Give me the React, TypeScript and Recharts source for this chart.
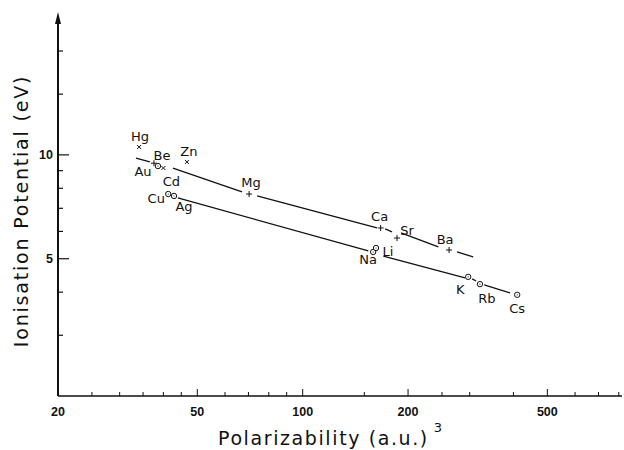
import React from "react";
import { ScatterChart, Scatter, XAxis, YAxis, ReferenceDot } from "recharts";

// values (polarizability in a.u.^3, ionisation potential in eV)
const elements = ["Hg", "Be", "Au", "Cd", "Zn", "Cu", "Ag", "Mg", "Ca", "Sr", "Ba", "Na", "Li", "K", "Rb", "Cs"];
const polarizability = [34.1, 37.6, 38.6, 40.0, 46.7, 41.3, 42.9, 70.3, 167, 186, 262, 159, 162, 297, 321, 410];
const ionisation = [10.54, 9.46, 9.28, 9.16, 9.54, 7.7, 7.6, 7.7, 6.14, 5.74, 5.3, 5.23, 5.37, 4.43, 4.22, 3.93];
const groups = ["d10s2", "s2", "s1", "d10s2", "d10s2", "s1", "s1", "s2", "s2", "s2", "s2", "s1", "s1", "s1", "s1", "s1"];

// the two fitted lines, broken where they pass the symbols
const upperLineX = [[33.4, 36.6], [42.6, 67.1], [74.1, 163], [172, 180], [191, 244], [276, 307]];
const upperLineY = [[9.79, 9.54], [9.16, 7.81], [7.6, 6.14], [6.1, 5.98], [5.94, 5.41], [5.23, 5.06]];
const lowerLineX = [[44.0, 154], [170, 291], [305, 313], [330, 391]];
const lowerLineY = [[7.5, 5.27], [5.09, 4.4], [4.37, 4.31], [4.2, 3.98]];

const xTicks = [20, 25, 30, 35, 40, 45, 50, 60, 70, 80, 90, 100, 150, 200, 250, 300, 400, 500, 600, 700, 800];
const xTickLabels = [20, 50, 100, 200, 500];
const yTicks = [3, 4, 5, 6, 7, 8, 9, 10, 15, 20];
const yTickLabels = [5, 10];

const xDomain = [20, 817];
const yDomain = [2, 24.6];

const INK = "#111";

const labelOffset: Record<string, [number, number]> = {
  Hg: [1, -10], Be: [8, -8], Zn: [2, -10], Au: [-15, 5], Cd: [8, 13], Cu: [-12, 4], Ag: [10, 11],
  Mg: [2, -12], Ca: [-1, -11], Sr: [10, -8], Ba: [-4, -10], Li: [12, 3], Na: [-5, 8],
  K: [-8, 13], Rb: [7, 14], Cs: [0, 14],
};

const points = elements.map((name, i) => ({
  name,
  x: polarizability[i],
  y: ionisation[i],
  group: groups[i],
}));

const toSegments = (xs: number[][], ys: number[][]) =>
  xs.map((pair, i) => pair.map((x, j) => ({ x, y: ys[i][j] })));

const upperSegments = toSegments(upperLineX, upperLineY);
const lowerSegments = toSegments(lowerLineX, lowerLineY);

function ElementMark(props: any) {
  const { cx, cy, payload } = props;
  if (cx == null || cy == null) return <g />;
  const [dx, dy] = labelOffset[payload.name] || [0, -10];
  let mark;
  if (payload.group === "s2") {
    mark = <path d={`M${cx - 3},${cy}H${cx + 3}M${cx},${cy - 3}V${cy + 3}`} stroke={INK} strokeWidth={1} />;
  } else if (payload.group === "d10s2") {
    mark = (
      <path
        d={`M${cx - 2},${cy - 2}L${cx + 2},${cy + 2}M${cx + 2},${cy - 2}L${cx - 2},${cy + 2}`}
        stroke={INK}
        strokeWidth={1}
      />
    );
  } else {
    mark = (
      <g>
        <circle cx={cx} cy={cy} r={2.7} fill="#fff" stroke={INK} strokeWidth={1} />
        <circle cx={cx} cy={cy} r={0.6} fill={INK} />
      </g>
    );
  }
  return (
    <g>
      {mark}
      <text
        x={cx + dx}
        y={cy + dy}
        textAnchor="middle"
        dominantBaseline="central"
        fontFamily="DejaVu Sans"
        fontSize={13}
        fill={INK}
      >
        {payload.name}
      </text>
    </g>
  );
}

function XTick(props: any) {
  const { x, y, payload } = props;
  const v = payload.value;
  const labelled = xTickLabels.includes(v);
  return (
    <g>
      {v !== 20 && <line x1={x} y1={y} x2={x} y2={y - (labelled ? 7 : 4)} stroke={INK} strokeWidth={1} />}
      {labelled && (
        <text x={x} y={y + 16} textAnchor="middle" dominantBaseline="central"
          fontFamily="Liberation Sans" fontWeight="bold" fontSize={12.5} fill={INK}>
          {v}
        </text>
      )}
    </g>
  );
}

function YTick(props: any) {
  const { x, y, payload } = props;
  const v = payload.value;
  const labelled = yTickLabels.includes(v);
  return (
    <g>
      <line x1={x} y1={y} x2={x + (labelled ? 11 : 5)} y2={y} stroke={INK} strokeWidth={1.2} />
      {labelled && (
        <text x={x - 5} y={y} textAnchor="end" dominantBaseline="central"
          fontFamily="Liberation Sans" fontWeight="bold" fontSize={12.5} fill={INK}>
          {v}
        </text>
      )}
    </g>
  );
}

const Arrow = (props: any) => {
  const { cx, cy } = props;
  return <path d={`M${cx},${cy - 8} L${cx - 3},${cy + 4} L${cx + 3},${cy + 4} Z`} fill={INK} />;
};

const xTitle = () => (
  <text x={218} y={438} textAnchor="start" dominantBaseline="central"
    fontFamily="DejaVu Sans" fontSize={19} letterSpacing={1.6} fill={INK}>
    Polarizability (a.u.)
    <tspan dx={5} dy={-11} fontSize={13}>3</tspan>
  </text>
);

const yTitle = () => (
  <text x={21} y={211} textAnchor="middle" dominantBaseline="central" transform="rotate(-90 21 211)"
    fontFamily="DejaVu Sans" fontSize={19} letterSpacing={1.8} fill={INK}>
    Ionisation Potential (eV)
  </text>
);

export default function App() {
  return (
    <div style={{ position: "absolute", left: 0, top: 0, width: 624, height: 450, background: "#fff" }}>
      <ScatterChart width={624} height={450} margin={{ top: 20, right: 2, bottom: 0, left: 0 }}>
        <XAxis
          type="number"
          dataKey="x"
          scale="log"
          domain={xDomain}
          allowDataOverflow
          ticks={xTicks}
          interval={0}
          height={54}
          tickSize={0}
          tickMargin={0}
          tickLine={false}
          tick={<XTick />}
          axisLine={{ stroke: INK, strokeWidth: 1.3 }}
          label={{ content: xTitle }}
        />
        <YAxis
          type="number"
          dataKey="y"
          scale="log"
          domain={yDomain}
          allowDataOverflow
          ticks={yTicks}
          interval={0}
          width={58}
          tickSize={0}
          tickMargin={0}
          tickLine={false}
          tick={<YTick />}
          axisLine={{ stroke: INK, strokeWidth: 2 }}
          label={{ content: yTitle }}
        />
        {upperSegments.map((seg, i) => (
          <Scatter key={`u${i}`} data={seg} line={{ stroke: INK, strokeWidth: 1.3 }} shape={() => <g />} isAnimationActive={false} />
        ))}
        {lowerSegments.map((seg, i) => (
          <Scatter key={`l${i}`} data={seg} line={{ stroke: INK, strokeWidth: 1.3 }} shape={() => <g />} isAnimationActive={false} />
        ))}
        <Scatter data={points} shape={<ElementMark />} isAnimationActive={false} />
        <ReferenceDot x={xDomain[0]} y={yDomain[1]} ifOverflow="visible" shape={<Arrow />} />
      </ScatterChart>
    </div>
  );
}
